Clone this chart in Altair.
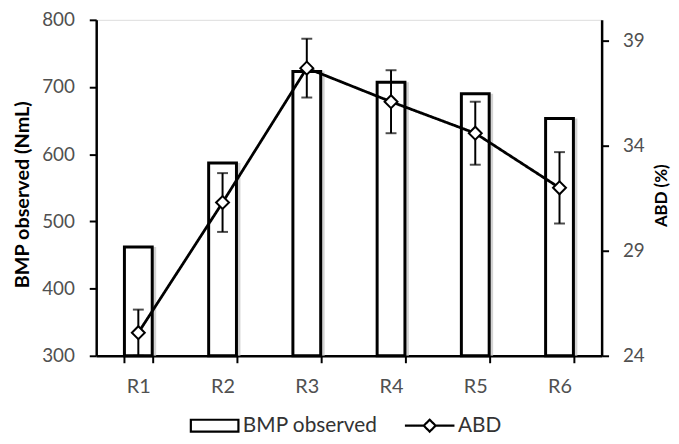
import altair as alt
import pandas as pd

categories = ["R1", "R2", "R3", "R4", "R5", "R6"]
bmp = [462, 587, 723, 707, 690, 653]
abd = [25.1, 31.3, 37.7, 36.1, 34.6, 32.0]
abd_err = [1.1, 1.4, 1.4, 1.5, 1.5, 1.7]

df = pd.DataFrame({
    "cat": categories,
    "bmp": bmp,
    "abd": abd,
    "lo": [a - e for a, e in zip(abd, abd_err)],
    "hi": [a + e for a, e in zip(abd, abd_err)],
})

FONT = "Lato"
LABEL_COLOR = "#505050"

x = alt.X("cat:N", sort=categories, title=None,
          scale=alt.Scale(paddingInner=0.67, paddingOuter=0.335),
          axis=alt.Axis(labelAngle=0, labelFontSize=20, labelColor=LABEL_COLOR,
                        labelFont=FONT, tickBand="extent", tickSize=7,
                        tickColor="black", tickWidth=2, domainColor="black",
                        domainWidth=2.5, labelPadding=14))

RECT = "M-2.4,-0.6H2.4V0.6H-2.4Z"
LINESYM = "M-2.5,0H-0.6M0.6,0H2.5M-0.6,0L0,-0.6L0.6,0L0,0.6Z"

common_legend = dict(
    title=None, orient="none", direction="horizontal",
    symbolSize=400, symbolFillColor="white", symbolStrokeColor="black",
    symbolStrokeWidth=2.2, labelOffset=17, padding=0,
    labelFontSize=21, labelFont=FONT, labelColor="#333333",
)

yl_scale = alt.Scale(domain=[300, 800], nice=False, zero=False)
yl_axis = alt.Axis(values=[300, 400, 500, 600, 700, 800], grid=False,
                   labelFontSize=19, labelColor=LABEL_COLOR, labelFont=FONT,
                   tickSize=7, tickColor="black", tickWidth=2,
                   domainColor="black", domainWidth=2.5, labelPadding=15,
                   titleFont=FONT, titleFontSize=20, titleFontWeight="bold",
                   titleColor="black", titleAngle=270, titleAlign="center",
                   titleBaseline="middle", titleX=-74, titleY=176)

shadow = alt.Chart(df).mark_bar(color="#c8c8c8", xOffset=4, opacity=0.8).encode(
    x=x,
    y=alt.Y("bmp:Q", title="BMP observed (NmL)", scale=yl_scale, axis=yl_axis),
    y2=alt.datum(300),
)

bars = alt.Chart(df).mark_bar(fill="white", strokeWidth=3).encode(
    x=x,
    y=alt.Y("bmp:Q", title="BMP observed (NmL)", scale=yl_scale, axis=yl_axis),
    y2=alt.datum(300),
    stroke=alt.Stroke("s:N", scale=alt.Scale(domain=["BMP observed"], range=["black"]),
                      legend=alt.Legend(symbolType=RECT, legendX=108, legendY=398,
                                        **common_legend)),
).transform_calculate(s="'BMP observed'")

left = alt.layer(shadow, bars)

yscale = alt.Scale(domain=[24, 40], nice=False, zero=False)
yr_axis = alt.Axis(orient="right", values=[24, 29, 34, 39], grid=False,
                   labelFontSize=19, labelColor=LABEL_COLOR, labelFont=FONT,
                   tickSize=7, tickColor="black", tickWidth=2,
                   domainColor="black", domainWidth=2.5, labelPadding=14,
                   titleFont=FONT, titleFontSize=17, titleFontWeight="bold",
                   titleColor="black", titleAngle=270, titleAlign="center",
                   titleBaseline="middle", titleX=60, titleY=177)


def yr(field):
    return alt.Y(field, title="ABD (%)", scale=yscale, axis=yr_axis)


line = alt.Chart(df).mark_line(strokeWidth=2.8, color="black").encode(
    x=x, y=yr("abd:Q"),
    strokeDash=alt.StrokeDash("s:N", scale=alt.Scale(domain=["ABD"], range=[[1, 0]]),
                              legend=alt.Legend(symbolType=LINESYM, legendX=325,
                                                legendY=398, **common_legend)),
).transform_calculate(s="'ABD'")

err = alt.Chart(df).mark_rule(color="black", strokeWidth=2).encode(
    x=x, y=yr("lo:Q"), y2="hi:Q",
)
cap_lo = alt.Chart(df).mark_tick(color="black", thickness=2, size=11).encode(
    x=x, y=yr("lo:Q"),
)
cap_hi = alt.Chart(df).mark_tick(color="black", thickness=2, size=11).encode(
    x=x, y=yr("hi:Q"),
)
pts = alt.Chart(df).mark_point(shape="diamond", size=170, fill="white",
                               stroke="black", strokeWidth=2, opacity=1,
                               filled=False).encode(
    x=x, y=yr("abd:Q"),
)

right = alt.layer(line, err, cap_lo, cap_hi, pts)

chart = alt.layer(left, right).resolve_scale(y="independent").properties(
    width=510, height=339,
    autosize=alt.AutoSizeParams(type="none"),
    padding={"left": 89, "top": 10, "right": 70, "bottom": 80},
).configure_view(stroke=None).configure(background="white")

chart.save("out.html", embed_options={"renderer": "svg", "actions": False})
